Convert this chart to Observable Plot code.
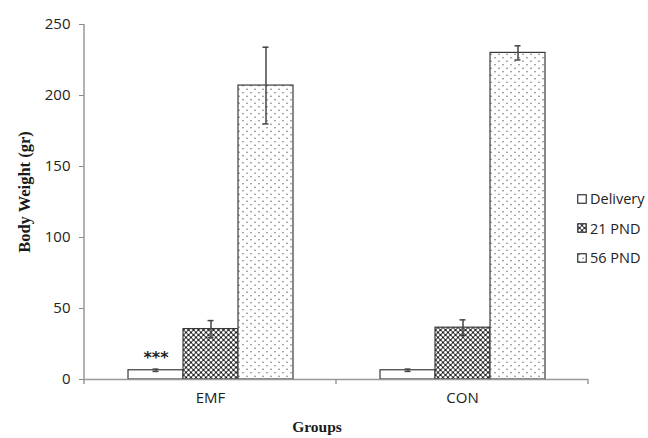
<!DOCTYPE html>
<html>
<head>
<meta charset="utf-8">
<script src="https://cdn.jsdelivr.net/npm/d3@7"></script>
<script src="https://cdn.jsdelivr.net/npm/@observablehq/plot@0.6"></script>
<style>
  html, body { margin: 0; padding: 0; background: #ffffff; }
  #wrap { position: relative; width: 648px; height: 438px; overflow: hidden; }
  .ytitle { position: absolute; left: 25px; top: 192px; transform: translate(-50%, -50%) rotate(-90deg);
    font-family: "Liberation Serif", serif; font-weight: bold; font-size: 16.5px; line-height: 18px; color: #1a1a1a; white-space: nowrap; }
  .xtitle { position: absolute; left: 317px; top: 426px; transform: translate(-50%, -50%);
    font-family: "Liberation Serif", serif; font-weight: bold; font-size: 15.5px; line-height: 17px; color: #1a1a1a; white-space: nowrap; }
  #legend { position: absolute; left: 577px; top: 184px; font-family: "Open Sans", sans-serif; font-size: 14.5px; color: #222; }
  #legend .item { display: flex; align-items: center; height: 29.5px; }
  #legend svg { margin-right: 3px; }
</style>
</head>
<body>
<svg width="0" height="0" style="position:absolute">
  <defs>
    <pattern id="cross" width="5" height="5" patternUnits="userSpaceOnUse">
      <rect width="5" height="5" fill="#2b2b2b"></rect>
      <circle cx="0" cy="0" r="1.45" fill="#fff"></circle>
      <circle cx="5" cy="0" r="1.45" fill="#fff"></circle>
      <circle cx="0" cy="5" r="1.45" fill="#fff"></circle>
      <circle cx="5" cy="5" r="1.45" fill="#fff"></circle>
      <circle cx="2.5" cy="2.5" r="1.45" fill="#fff"></circle>
    </pattern>
    <pattern id="dots" width="8" height="7" patternUnits="userSpaceOnUse">
      <rect width="8" height="7" fill="#fff"></rect>
      <circle cx="2" cy="1.75" r="0.75" fill="#666"></circle>
      <circle cx="6" cy="5.25" r="0.75" fill="#666"></circle>
    </pattern>
  </defs>
</svg>
<div id="wrap">
  <div id="chart"></div>
  <div class="ytitle">Body Weight (gr)</div>
  <div class="xtitle">Groups</div>
  <div id="legend"></div>
</div>
<script>
const groups = ["EMF", "CON"];
const series = ["Delivery", "21 PND", "56 PND"];
const emfMeans = [6.5, 35.5, 207];
const emfErrors = [0.8, 6, 27];
const conMeans = [6.5, 36.5, 230];
const conErrors = [0.8, 5.5, 5];
const emfSignificance = ["***", "", ""];
const conSignificance = ["", "", ""];
const yTicks = [0, 50, 100, 150, 200, 250];
const seriesFills = ["#ffffff", "url(#cross)", "url(#dots)"];

const rows = [];
series.forEach((s, i) => {
  rows.push({group: "EMF", series: s, mean: emfMeans[i], err: emfErrors[i], sig: emfSignificance[i]});
  rows.push({group: "CON", series: s, mean: conMeans[i], err: conErrors[i], sig: conSignificance[i]});
});
const sigRows = rows.filter(d => d.sig);

const W = 648, H = 438;
const plot = Plot.plot({
  width: W,
  height: H,
  marginLeft: 83,
  marginRight: 60,
  marginTop: 24,
  marginBottom: 59,
  style: {fontFamily: "'Open Sans', sans-serif", fontSize: "15px", color: "#222", background: "transparent"},
  fx: {domain: groups, padding: 0, label: null},
  x: {domain: series, paddingInner: 0, paddingOuter: 0.77, axis: null},
  y: {domain: [0, 250], ticks: yTicks, label: null},
  color: {domain: series, range: seriesFills},
  marks: [
    Plot.axisY({ticks: yTicks, tickSize: 5, tickPadding: 9, label: null, stroke: "#888", fontSize: 15, fill: "#222"}),
    Plot.axisFx({anchor: "bottom", tickSize: 0, tickPadding: 13, label: null, fontSize: 15, fill: "#222"}),
    Plot.barY(rows, {fx: "group", x: "series", y: "mean", fill: "series", stroke: "#3a3a3a", strokeWidth: 1.2}),
    Plot.ruleX(rows, {fx: "group", x: "series", y1: d => d.mean - d.err, y2: d => d.mean + d.err, stroke: "#444", strokeWidth: 1.5}),
    Plot.tickY(rows, {fx: "group", x: "series", y: d => d.mean + d.err, stroke: "#444", strokeWidth: 1.5, insetLeft: 24.5, insetRight: 24.5}),
    Plot.tickY(rows, {fx: "group", x: "series", y: d => d.mean - d.err, stroke: "#444", strokeWidth: 1.5, insetLeft: 24.5, insetRight: 24.5}),
    Plot.text(sigRows, {fx: "group", x: "series", y: d => d.mean + d.err, text: "sig", dy: -11, lineAnchor: "middle",
      fontSize: 16, fontWeight: "bold", fill: "#222", fontFamily: "'DejaVu Sans', sans-serif"}),
    Plot.ruleY([0], {stroke: "#999", strokeWidth: 1.5})
  ]
});
document.getElementById("chart").appendChild(plot);

// Axis lines (y axis line and category boundary ticks) derived from the scales
const ys = plot.scale("y"), fxs = plot.scale("fx");
const svg = d3.select(plot);
const y0 = ys.apply(0), yTop = ys.apply(250);
const xLeft = fxs.apply(groups[0]);
svg.append("line").attr("x1", xLeft).attr("x2", xLeft).attr("y1", yTop).attr("y2", y0 + 5)
  .attr("stroke", "#999").attr("stroke-width", 1.5);
groups.forEach(g => {
  const xe = fxs.apply(g) + fxs.bandwidth;
  svg.append("line").attr("x1", xe).attr("x2", xe).attr("y1", y0).attr("y2", y0 + 5)
    .attr("stroke", "#999").attr("stroke-width", 1.5);
});

// Legend
const legend = d3.select("#legend");
series.forEach((s, i) => {
  const item = legend.append("div").attr("class", "item");
  const sw = item.append("svg").attr("width", 10).attr("height", 10);
  sw.append("rect").attr("x", 0.75).attr("y", 0.75).attr("width", 8.5).attr("height", 8.5)
    .attr("fill", seriesFills[i]).attr("stroke", "#333").attr("stroke-width", 1.2);
  item.append("span").text(s);
});
</script>
</body>
</html>
